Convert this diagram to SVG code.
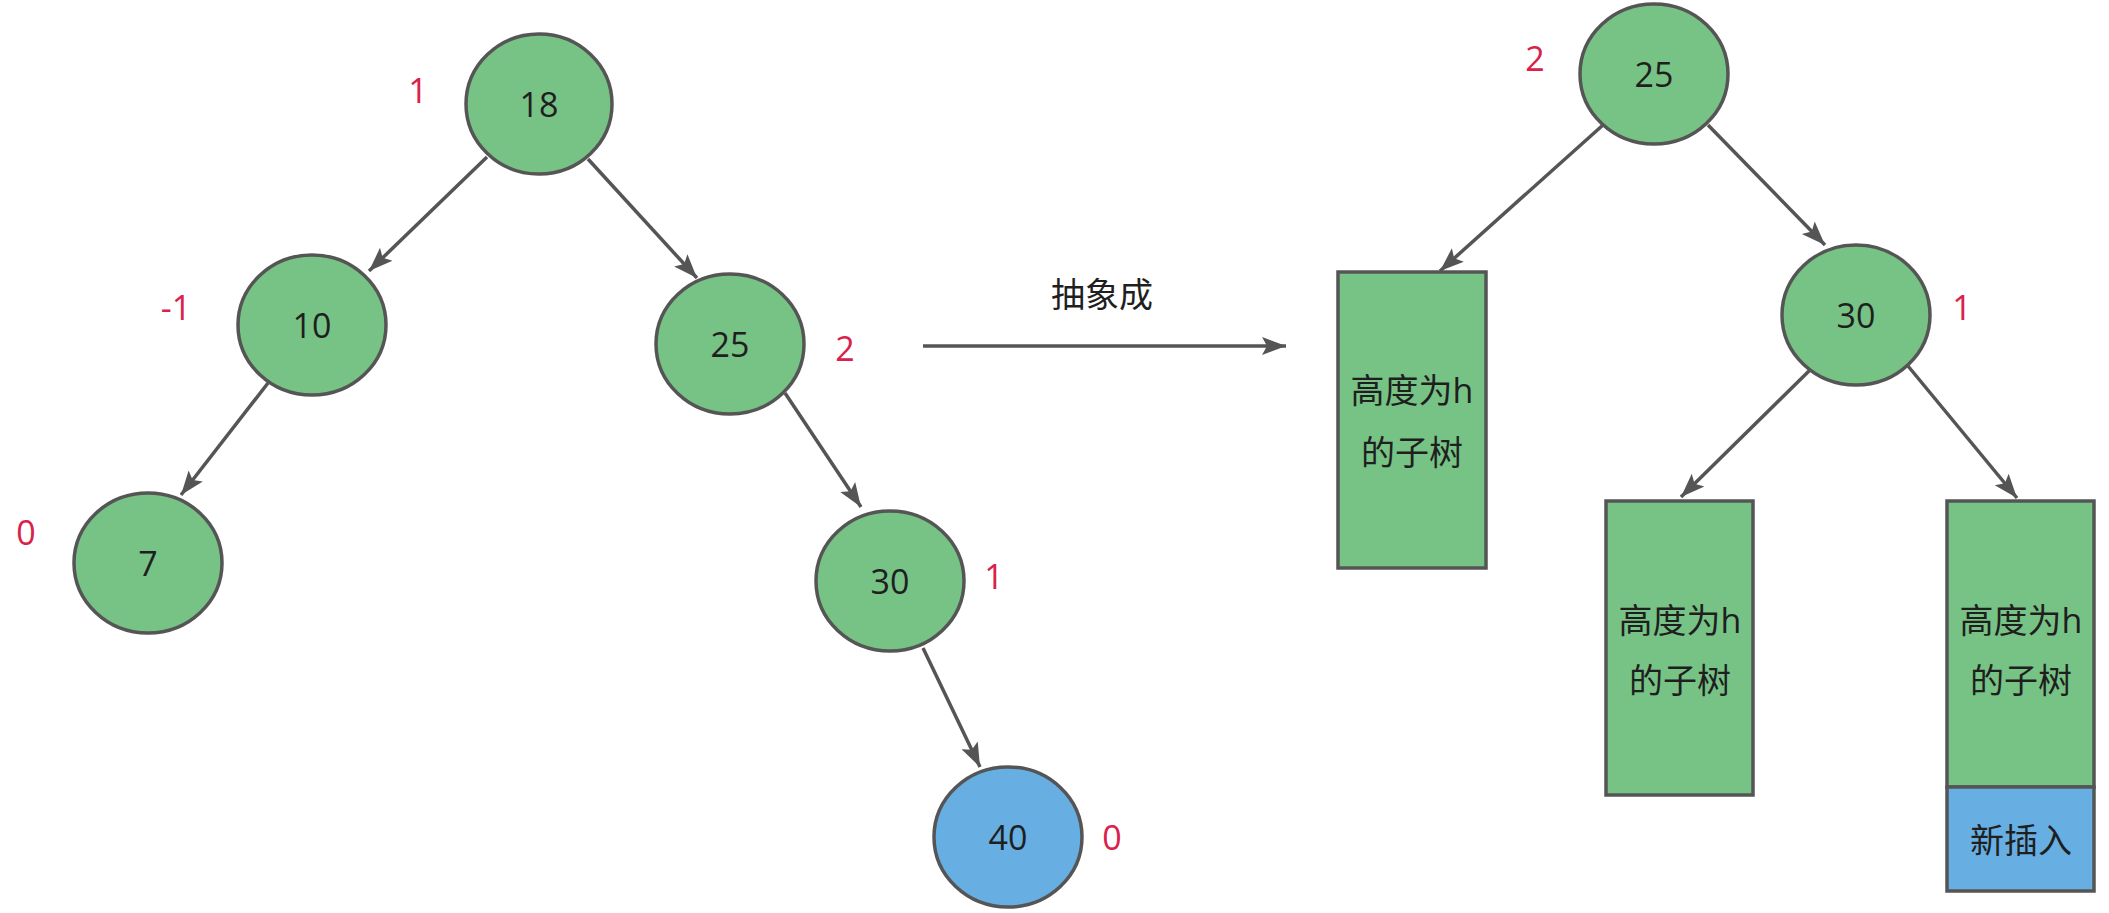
<svg xmlns="http://www.w3.org/2000/svg" width="2109" height="913" viewBox="0 0 2109 913">
<style>
.g{fill:#77C386;stroke:#555555;stroke-width:3.5}
.b{fill:#67AFE3;stroke:#555555;stroke-width:3.5}
.t{font-family:"Open Sans","Noto Sans CJK SC",sans-serif;font-size:34px;fill:#1f1f1f;text-anchor:middle;dominant-baseline:central}
.r{font-family:"Open Sans","Noto Sans CJK SC",sans-serif;font-size:34px;fill:#D9214A;text-anchor:middle;dominant-baseline:central}
.e{stroke:#555555;stroke-width:3.5;fill:none;marker-end:url(#a)}
</style>
<defs>
<marker id="a" markerUnits="userSpaceOnUse" markerWidth="26" markerHeight="20" refX="24" refY="9" orient="auto" viewBox="0 0 26 18">
<path d="M0,0 L24,9 L0,18 L5,9 Z" fill="#555555"/>
</marker>
</defs>
<rect width="2109" height="913" fill="#ffffff"/>
<g id="connectors">
<line class="e" x1="487" y1="157" x2="369" y2="271"/>
<line class="e" x1="588" y1="159" x2="697" y2="278"/>
<line class="e" x1="268" y1="383" x2="181" y2="495"/>
<line class="e" x1="785" y1="393" x2="861" y2="507"/>
<line class="e" x1="923" y1="648" x2="980" y2="767"/>
<line class="e" x1="923" y1="346" x2="1286" y2="346"/>
<line class="e" x1="1603" y1="125" x2="1440" y2="271"/>
<line class="e" x1="1708" y1="125" x2="1825" y2="245"/>
<line class="e" x1="1810" y1="370" x2="1681" y2="497"/>
<line class="e" x1="1908" y1="366" x2="2017" y2="498"/>
</g>
<text class="t" x="1102" y="294">抽象成</text>
<g id="n18"><ellipse class="g" cx="539" cy="104" rx="73" ry="70"/><text class="t" x="539" y="104">18</text></g>
<g id="n10"><ellipse class="g" cx="312" cy="325" rx="74" ry="70"/><text class="t" x="312" y="325">10</text></g>
<g id="n7"><ellipse class="g" cx="148" cy="563" rx="74" ry="70"/><text class="t" x="148" y="563">7</text></g>
<g id="n25"><ellipse class="g" cx="730" cy="344" rx="74" ry="70"/><text class="t" x="730" y="344">25</text></g>
<g id="n30"><ellipse class="g" cx="890" cy="581" rx="74" ry="70"/><text class="t" x="890" y="581">30</text></g>
<g id="n40"><ellipse class="b" cx="1008" cy="837" rx="74" ry="70"/><text class="t" x="1008" y="837">40</text></g>
<g id="r25"><ellipse class="g" cx="1654" cy="74" rx="74" ry="70"/><text class="t" x="1654" y="74">25</text></g>
<g id="r30"><ellipse class="g" cx="1856" cy="315" rx="74" ry="70"/><text class="t" x="1856" y="315">30</text></g>
<g id="sub1"><rect class="g" x="1338" y="272" width="148" height="296"/><text class="t" x="1412" y="390">高度为h</text><text class="t" x="1412" y="452">的子树</text></g>
<g id="sub2"><rect class="g" x="1606" y="501" width="147" height="294"/><text class="t" x="1680" y="620">高度为h</text><text class="t" x="1680" y="680">的子树</text></g>
<g id="sub3"><rect class="g" x="1947" y="501" width="147" height="286"/><text class="t" x="2021" y="620">高度为h</text><text class="t" x="2021" y="680">的子树</text></g>
<g id="new"><rect class="b" x="1947" y="787" width="147" height="104"/><text class="t" x="2021" y="840">新插入</text></g>
<g id="labels">
<text class="r" x="418" y="90">1</text>
<text class="r" x="176" y="307">-1</text>
<text class="r" x="26" y="532">0</text>
<text class="r" x="845" y="348">2</text>
<text class="r" x="994" y="576">1</text>
<text class="r" x="1112" y="837">0</text>
<text class="r" x="1535" y="58">2</text>
<text class="r" x="1962" y="307">1</text>
</g>
</svg>
